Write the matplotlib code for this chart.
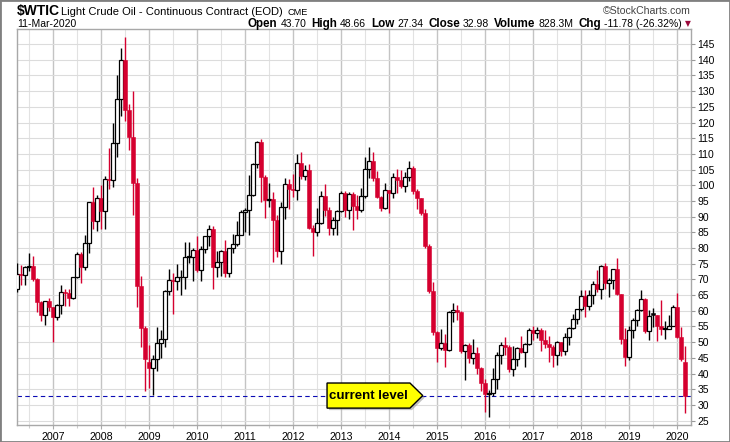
import numpy as np
import pandas as pd
import matplotlib
matplotlib.use("Agg")
import matplotlib.pyplot as plt
from matplotlib.patches import Polygon, Rectangle
from matplotlib.ticker import FixedLocator
import matplotlib.transforms as mtransforms

plt.rcParams['font.family'] = ['Liberation Sans', 'DejaVu Sans']

# Monthly candles, Apr 2006 .. Mar 2020 ($WTIC, continuous contract)
opens = [
    67.00, 71.88, 71.29, 73.93, 74.40, 70.26, 62.91, 58.73, 63.13,
    61.05, 58.14, 61.79, 65.87, 65.71, 64.01, 70.68, 78.21, 74.04, 81.66, 94.53, 88.71,
    95.98, 91.75, 101.84, 101.58, 113.46, 127.35, 140.00, 124.08, 115.46, 100.64, 67.81, 54.43,
    43.60, 41.68, 44.76, 49.66, 51.12, 66.31, 69.89, 69.45, 70.61, 70.61, 77.00, 77.28,
    79.36, 72.89, 79.66, 83.76, 86.15, 73.97, 75.63, 78.95, 71.92, 79.97, 81.43, 84.11,
    91.38, 92.19, 96.97, 106.72, 113.93, 102.70, 95.42, 95.70, 88.81, 79.20, 93.19, 100.36,
    98.83, 98.48, 107.07, 103.02, 104.87, 86.53, 84.96, 88.06, 96.47, 92.19, 86.24, 88.91,
    91.82, 97.49, 92.05, 97.23, 93.46, 91.97, 96.56, 105.03, 107.65, 102.33, 96.38, 92.72,
    98.42, 97.49, 102.59, 101.58, 99.74, 102.71, 105.37, 98.17, 95.96, 91.16, 80.54, 66.15,
    53.27, 48.24, 49.76, 47.60, 59.63, 60.30, 59.47, 47.12, 49.20, 45.09, 46.59, 41.65,
    37.04, 33.62, 33.75, 38.34, 45.92, 49.10, 48.33, 41.60, 44.70, 48.24, 46.86, 49.44,
    53.72, 52.81, 54.01, 50.60, 49.33, 48.32, 46.04, 50.17, 47.23, 51.67, 54.38, 57.40,
    60.42, 64.73, 61.64, 64.94, 68.57, 67.04, 74.15, 68.76, 69.80, 73.25, 65.31, 50.93,
    45.41, 53.79, 57.22, 60.14, 63.91, 53.50, 59.20, 58.58, 55.10, 54.07, 54.18, 55.17,
    61.06, 51.56, 43.70,
]
highs = [
    75.35, 74.60, 74.20, 78.40, 77.30, 70.50, 63.20, 63.20, 64.10,
    61.10, 62.20, 68.10, 66.90, 67.00, 70.80, 78.80, 78.80, 84.10, 94.70, 99.30, 97.00,
    100.10, 103.00, 111.80, 119.90, 135.10, 143.70, 147.30, 126.00, 130.00, 102.40, 71.10, 55.00,
    49.00, 45.90, 54.70, 54.00, 66.60, 73.40, 72.00, 75.00, 72.90, 82.00, 82.00, 80.00,
    83.90, 80.50, 83.90, 87.20, 87.00, 79.00, 79.40, 82.70, 80.00, 84.40, 88.60, 92.00,
    92.60, 103.40, 107.00, 114.10, 114.80, 103.40, 100.60, 98.00, 90.50, 94.70, 102.40, 101.90,
    103.70, 110.00, 110.60, 106.30, 106.80, 87.40, 92.90, 98.30, 100.40, 93.00, 90.00, 92.00,
    98.20, 98.20, 97.70, 97.80, 97.00, 99.00, 108.90, 112.20, 110.70, 104.40, 96.60, 100.80,
    98.50, 103.90, 105.20, 104.90, 104.20, 107.70, 106.00, 98.80, 96.00, 92.30, 81.20, 69.30,
    53.60, 54.20, 52.50, 59.90, 62.60, 61.90, 59.80, 49.40, 49.60, 50.90, 48.40, 42.10,
    38.40, 34.70, 41.90, 46.80, 50.20, 51.70, 49.00, 48.80, 48.40, 51.90, 49.60, 54.50,
    55.20, 54.90, 54.40, 53.80, 52.00, 49.00, 50.40, 50.20, 52.90, 54.90, 59.10, 60.50,
    66.70, 66.70, 66.60, 69.60, 72.90, 74.50, 75.30, 70.30, 73.30, 76.90, 65.40, 54.50,
    55.00, 57.80, 60.70, 66.60, 64.00, 60.10, 60.90, 58.70, 63.40, 56.90, 58.70, 61.80,
    65.70, 54.70, 48.70,
]
lows = [
    65.85, 68.30, 68.20, 72.60, 69.60, 59.50, 56.60, 55.40, 60.00,
    49.90, 57.20, 58.90, 61.50, 61.40, 63.90, 70.50, 69.00, 72.90, 78.30, 86.00, 85.40,
    86.10, 86.10, 98.70, 99.60, 109.10, 122.00, 120.40, 111.30, 90.50, 61.30, 48.50, 34.50,
    35.50, 33.20, 40.90, 45.00, 48.50, 65.10, 59.00, 66.50, 65.10, 66.80, 75.10, 69.50,
    72.40, 69.50, 78.50, 80.60, 67.00, 70.80, 71.00, 70.80, 70.80, 78.40, 80.70, 84.00,
    85.10, 84.10, 96.50, 105.50, 94.60, 89.70, 93.00, 75.70, 77.10, 74.95, 89.20, 92.50,
    96.30, 95.40, 102.10, 101.60, 86.00, 77.30, 83.70, 87.50, 90.30, 84.10, 84.10, 84.00,
    91.40, 90.00, 89.30, 85.60, 89.40, 91.50, 95.90, 102.20, 101.50, 95.90, 91.80, 92.50,
    91.20, 96.00, 97.40, 99.20, 98.00, 101.40, 97.20, 92.50, 90.40, 80.00, 65.70, 52.40,
    43.60, 47.40, 42.00, 47.10, 56.50, 57.20, 46.70, 37.80, 43.20, 43.00, 40.00, 34.50,
    27.60, 26.10, 33.00, 35.20, 43.00, 45.80, 40.60, 39.20, 42.50, 46.60, 42.20, 49.20,
    50.70, 51.20, 47.10, 48.20, 43.80, 42.10, 42.80, 45.60, 46.00, 49.10, 54.20, 55.80,
    59.80, 58.10, 60.10, 62.30, 66.00, 63.60, 67.00, 64.40, 67.00, 64.90, 49.40, 42.40,
    44.40, 51.20, 55.00, 59.90, 53.00, 50.60, 54.80, 50.50, 52.30, 51.00, 54.10, 55.00,
    51.30, 44.00, 27.30,
]
closes = [
    71.88, 71.29, 73.93, 74.40, 70.26, 62.91, 58.73, 63.13, 61.05,
    58.14, 61.79, 65.87, 65.71, 64.01, 70.68, 78.21, 74.04, 81.66, 94.53, 88.71, 95.98,
    91.75, 101.84, 101.58, 113.46, 127.35, 140.00, 124.08, 115.46, 100.64, 67.81, 54.43, 44.60,
    41.68, 44.76, 49.66, 51.12, 66.31, 69.89, 69.45, 70.61, 70.61, 77.00, 77.28, 79.36,
    72.89, 79.66, 83.76, 86.15, 73.97, 75.63, 78.95, 71.92, 79.97, 81.43, 84.11, 91.38,
    92.19, 96.97, 106.72, 113.93, 102.70, 95.42, 95.70, 88.81, 79.20, 93.19, 100.36, 98.83,
    98.48, 107.07, 103.02, 104.87, 86.53, 84.96, 88.06, 96.47, 92.19, 86.24, 88.91, 91.82,
    97.49, 92.05, 97.23, 93.46, 91.97, 96.56, 105.03, 107.65, 102.33, 96.38, 92.72, 98.42,
    97.49, 102.59, 101.58, 99.74, 102.71, 105.37, 98.17, 95.96, 91.16, 80.54, 66.15, 53.27,
    48.24, 49.76, 47.60, 59.63, 60.30, 59.47, 47.12, 49.20, 45.09, 46.59, 41.65, 37.04,
    33.62, 33.75, 38.34, 45.92, 49.10, 48.33, 41.60, 44.70, 48.24, 46.86, 49.44, 53.72,
    52.81, 54.01, 50.60, 49.33, 48.32, 46.04, 50.17, 47.23, 51.67, 54.38, 57.40, 60.42,
    64.73, 61.64, 64.94, 68.57, 67.04, 74.15, 68.76, 69.80, 73.25, 65.31, 50.93, 45.41,
    53.79, 57.22, 60.14, 63.91, 53.50, 58.47, 58.58, 55.10, 54.07, 54.18, 55.17, 61.06,
    51.56, 44.76, 32.98,
]
year_ticks = list(range(2007, 2021))
price_ticks = list(range(25, 150, 5))
stats = [("Open", "43.70"), ("High", "48.66"), ("Low", "27.34"), ("Close", "32.98"),
         ("Volume", "828.3M"), ("Chg", "-11.78 (-26.32%)")]

dates = pd.date_range("2006-04-01", periods=len(closes), freq="MS")
x = np.array(dates.year + (dates.month - 1) / 12.0)
o = np.array(opens); h = np.array(highs); l = np.array(lows); c = np.array(closes)

RED = '#d5002f'
W, H = 730, 442
fig = plt.figure(figsize=(W / 100, H / 100), dpi=100)
L, R, T, B = 17, 691, 29, 425
ax = fig.add_axes([L / W, 1 - B / H, (R - L) / W, (B - T) / H])

# candle colours: black/red vs previous close, hollow/filled vs open
prev = np.concatenate([[o[0]], c[:-1]])
cols = np.where(c >= prev, 'black', RED)
filled = c < o

ax.vlines(x, l, h, colors=cols, lw=1.0, zorder=3)
bw = 0.066
bottom = np.minimum(o, c)
height = np.maximum(np.abs(c - o), 0.3)
for xi, bi, hi, col, f in zip(x, bottom, height, cols, filled):
    if f:
        ax.bar(xi, hi, bw, bottom=bi, color=col, edgecolor=col, lw=0.4, zorder=4)
    else:
        ax.bar(xi, hi, bw, bottom=bi, facecolor='white', edgecolor=col, lw=0.9, zorder=4)

ax.set_xlim(2006.25, 2020.29)
ax.set_ylim(23.6, 149.8)
ax.set_axisbelow(True)

ax.yaxis.tick_right()
ax.set_yticks(price_ticks)
ax.set_xticks(year_ticks)
ax.set_xticklabels([str(y) for y in year_ticks])
ax.xaxis.set_minor_locator(FixedLocator([y + 0.5 for y in range(2006, 2020)]))
ax.tick_params(axis='y', length=3, width=0.8, color='#999999', pad=1.5, labelsize=7.5)
ax.tick_params(axis='x', which='major', length=3, width=0.8, color='#aaaaaa', pad=2, labelsize=7.7)
ax.tick_params(axis='x', which='minor', length=2, width=0.8, color='#cccccc')
ax.grid(axis='y', color='#dcdcdc', lw=0.8)
ax.grid(axis='x', which='major', color='#c4c4c4', lw=1.0)
ax.grid(axis='x', which='minor', color='#e2e2e2', lw=0.8)
for sp in ax.spines.values():
    sp.set_color('#a8a8a8')
    sp.set_linewidth(1.0)

# current level line + callout
lvl = closes[-1]
ax.axhline(lvl, color='#0a0ab4', ls=(0, (4, 3)), lw=0.8, zorder=2)
blend = mtransforms.blended_transform_factory(ax.transAxes, ax.transData)
x0, x1, x2, dy = 0.460, 0.583, 0.602, 4.0
pts = [(x0, lvl + dy), (x1, lvl + dy), (x2, lvl), (x1, lvl - dy), (x0, lvl - dy)]
shadow = mtransforms.offset_copy(blend, fig=fig, x=2, y=-2, units='dots')
ax.add_patch(Polygon(pts, closed=True, transform=shadow, facecolor='#9a9a9a',
                     edgecolor='none', alpha=0.6, zorder=5))
ax.add_patch(Polygon(pts, closed=True, transform=blend, facecolor='#ffff00',
                     edgecolor='black', lw=1.0, zorder=6))
ax.text(0.522, lvl, 'current level', transform=blend, ha='center', va='center',
        fontsize=9.5, fontweight='bold', color='black', zorder=7)

# header
def fx(px):
    return px / W

def fy(py):
    return 1 - py / H

fig.text(fx(17), fy(15.3), r'\$WTIC', fontsize=10.0, fontweight='bold', va='baseline')
t1 = fig.text(fx(61), fy(15.3), 'Light Crude Oil - Continuous Contract (EOD)', fontsize=8.0, va='baseline')
fig.canvas.draw()
rend = fig.canvas.get_renderer()
bb = t1.get_window_extent(rend)
fig.text((bb.x1 + 5) / W, fy(15.3), 'CME', fontsize=6.6, va='baseline')
fig.text(fx(17), fy(26.8), '11-Mar-2020', fontsize=7.5, va='baseline')
fig.text(fx(691), fy(14.5), '\u00a9StockCharts.com', fontsize=7.6, color='#444444',
         ha='right', va='baseline')

tri = fig.text(fx(691), fy(26.3), '\u25bc', fontsize=5.5, color='#9b0a3c', ha='right',
               va='baseline', family='DejaVu Sans')
xr = tri.get_window_extent(rend).x0 - 3
for lab, val in reversed(stats):
    tv = fig.text(xr / W, fy(26.8), val, fontsize=7.5, ha='right', va='baseline')
    xr = tv.get_window_extent(rend).x0 - 3
    tl = fig.text(xr / W, fy(26.8), lab, fontsize=8.4, fontweight='bold', ha='right', va='baseline')
    xr = tl.get_window_extent(rend).x0 - 5

# outer frame
fig.patches.append(Rectangle((0, 0), 1, 1, transform=fig.transFigure, fill=False,
                             edgecolor='#808080', lw=2.0))

fig.savefig('out.png', dpi=100)
